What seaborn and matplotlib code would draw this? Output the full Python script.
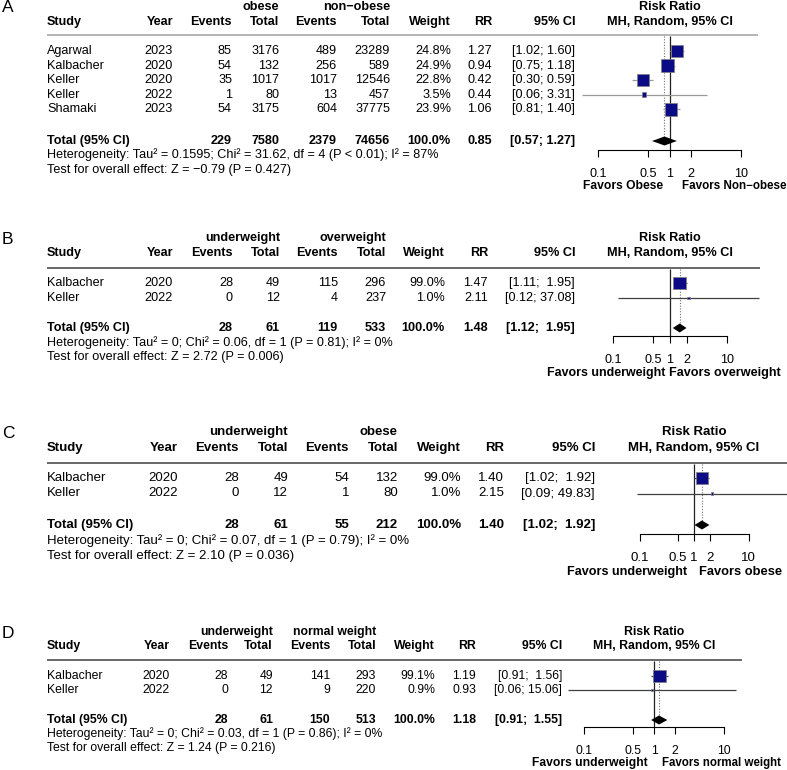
import matplotlib
matplotlib.use("Agg")
import numpy as np
import pandas as pd
import matplotlib.pyplot as plt
import seaborn as sns

sns.set_theme(style="white")
plt.rcParams["font.family"] = ["Liberation Sans", "DejaVu Sans"]

W, H = 787, 770
MINUS = "\u2212"

# --- A: obese vs non-obese
a_study = ["Agarwal", "Kalbacher", "Keller", "Keller", "Shamaki"]
a_year = [2023, 2020, 2020, 2022, 2023]
a_ev1 = [85, 54, 35, 1, 54]
a_tot1 = [3176, 132, 1017, 80, 3175]
a_ev2 = [489, 256, 1017, 13, 604]
a_tot2 = [23289, 589, 12546, 457, 37775]
a_weight = [24.8, 24.9, 22.8, 3.5, 23.9]
a_rr = [1.27, 0.94, 0.42, 0.44, 1.06]
a_lo = [1.02, 0.75, 0.30, 0.06, 0.81]
a_hi = [1.60, 1.18, 0.59, 3.31, 1.40]
a_total = [229, 7580, 2379, 74656]
a_pooled = [0.85, 0.57, 1.27]
a_groups = ["obese", "non" + MINUS + "obese"]
a_favors = ["Favors Obese", "Favors Non" + MINUS + "obese"]
a_het = "Heterogeneity: Tau² = 0.1595; Chi² = 31.62, df = 4 (P < 0.01); I² = 87%"
a_test = "Test for overall effect: Z = " + MINUS + "0.79 (P = 0.427)"

# --- B, C, D share the underweight arm
uw_study = ["Kalbacher", "Keller"]
uw_year = [2020, 2022]
uw_ev = [28, 0]
uw_tot = [49, 12]
uw_total = [28, 61]

b_ev2 = [115, 4]
b_tot2 = [296, 237]
b_weight = [99.0, 1.0]
b_rr = [1.47, 2.11]
b_lo = [1.11, 0.12]
b_hi = [1.95, 37.08]
b_total = [119, 533]
b_pooled = [1.48, 1.12, 1.95]
b_groups = ["underweight", "overweight"]
b_favors = ["Favors underweight", "Favors overweight"]
b_het = "Heterogeneity: Tau² = 0; Chi² = 0.06, df = 1 (P = 0.81); I² = 0%"
b_test = "Test for overall effect: Z = 2.72 (P = 0.006)"

c_ev2 = [54, 1]
c_tot2 = [132, 80]
c_weight = [99.0, 1.0]
c_rr = [1.40, 2.15]
c_lo = [1.02, 0.09]
c_hi = [1.92, 49.83]
c_total = [55, 212]
c_pooled = [1.40, 1.02, 1.92]
c_groups = ["underweight", "obese"]
c_favors = ["Favors underweight", "Favors obese"]
c_het = "Heterogeneity: Tau² = 0; Chi² = 0.07, df = 1 (P = 0.79); I² = 0%"
c_test = "Test for overall effect: Z = 2.10 (P = 0.036)"

d_ev2 = [141, 9]
d_tot2 = [293, 220]
d_weight = [99.1, 0.9]
d_rr = [1.19, 0.93]
d_lo = [0.91, 0.06]
d_hi = [1.56, 15.06]
d_total = [150, 513]
d_pooled = [1.18, 0.91, 1.55]
d_groups = ["underweight", "normal weight"]
d_favors = ["Favors underweight", "Favors normal weight"]
d_het = "Heterogeneity: Tau² = 0; Chi² = 0.03, df = 1 (P = 0.86); I² = 0%"
d_test = "Test for overall effect: Z = 1.24 (P = 0.216)"

panels = [
    dict(letter="A", study=a_study, year=a_year, ev1=a_ev1, tot1=a_tot1, ev2=a_ev2, tot2=a_tot2,
         weight=a_weight, rr=a_rr, lo=a_lo, hi=a_hi, total=a_total, pooled=a_pooled,
         groups=a_groups, favors=a_favors, het=a_het, test=a_test),
    dict(letter="B", study=uw_study, year=uw_year, ev1=uw_ev, tot1=uw_tot, ev2=b_ev2, tot2=b_tot2,
         weight=b_weight, rr=b_rr, lo=b_lo, hi=b_hi, total=uw_total + b_total, pooled=b_pooled,
         groups=b_groups, favors=b_favors, het=b_het, test=b_test),
    dict(letter="C", study=uw_study, year=uw_year, ev1=uw_ev, tot1=uw_tot, ev2=c_ev2, tot2=c_tot2,
         weight=c_weight, rr=c_rr, lo=c_lo, hi=c_hi, total=uw_total + c_total, pooled=c_pooled,
         groups=c_groups, favors=c_favors, het=c_het, test=c_test),
    dict(letter="D", study=uw_study, year=uw_year, ev1=uw_ev, tot1=uw_tot, ev2=d_ev2, tot2=d_tot2,
         weight=d_weight, rr=d_rr, lo=d_lo, hi=d_hi, total=uw_total + d_total, pooled=d_pooled,
         groups=d_groups, favors=d_favors, het=d_het, test=d_test),
]

# layout in pixels (top-left origin)
layouts = [
    dict(letter_y=8, grp_y=7, hdr_y=22, line_y=35, row0=51, dy=14.6, tot_y=141, het_y=155, test_y=170,
         axis_y=150, fav_y=186, cols=[173, 232, 279, 337, 390, 451, 492, 575], px1=669.5, dec=71.5,
         line_end=758, fav_l=663, fav_r=682, fav_fs=(8.7, 8.4), fs=9.05,
         line_col="#a0a0a0", ci_col="#9a9a9a"),
    dict(letter_y=240, grp_y=238, hdr_y=253, line_y=268, row0=283, dy=15, tot_y=328, het_y=343, test_y=357,
         axis_y=336, fav_y=373, cols=[173, 233, 280, 338, 386, 445, 488, 575], px1=670, dec=57,
         line_end=760, fav_l=665, fav_r=669, fav_fs=(8.95, 9.1), fs=9.1,
         line_col="#404040", ci_col="#404040"),
    dict(letter_y=434, grp_y=432, hdr_y=448, line_y=463, row0=478, dy=15.5, tot_y=525, het_y=541, test_y=556,
         axis_y=534, fav_y=572, cols=[178, 239, 288, 349, 398, 461, 504, 595], px1=694, dec=54.5,
         line_end=787, fav_l=687, fav_r=699, fav_fs=(9.1, 9.3), fs=9.55,
         line_col="#404040", ci_col="#404040"),
    dict(letter_y=633, grp_y=632, hdr_y=646, line_y=660, row0=676, dy=13.6, tot_y=720, het_y=734, test_y=748,
         axis_y=727, fav_y=763, cols=[170, 228, 273, 330, 376, 435, 476, 562], px1=654, dec=70,
         line_end=742, fav_l=648, fav_r=662, fav_fs=(8.7, 8.3), fs=8.85,
         line_col="#404040", ci_col="#404040"),
]

fig = plt.figure(figsize=(W / 100, H / 100), dpi=100)
bg = fig.add_axes([0, 0, 1, 1])
bg.set_xlim(0, W)
bg.set_ylim(H, 0)
bg.axis("off")

for p, L in zip(panels, layouts):
    fs = L["fs"]
    c = L["cols"]
    txt = lambda x, y, s, ha="right", bold=False, size=fs: bg.text(
        x, y, s, ha=ha, va="center", fontsize=size, fontweight="bold" if bold else "normal", color="black")

    txt(2, L["letter_y"], p["letter"], ha="left", size=12.5)

    # headers
    txt(c[2], L["grp_y"], p["groups"][0], bold=True)
    txt(c[4], L["grp_y"], p["groups"][1], bold=True)
    txt(L["px1"], L["grp_y"], "Risk Ratio", ha="center", bold=True)
    txt(47, L["hdr_y"], "Study", ha="left", bold=True)
    for x, s in zip(c, ["Year", "Events", "Total", "Events", "Total", "Weight", "RR", "95% CI"]):
        txt(x, L["hdr_y"], s, bold=True)
    txt(L["px1"], L["hdr_y"], "MH, Random, 95% CI", ha="center", bold=True)
    bg.plot([47, L["line_end"]], [L["line_y"]] * 2, color=L["line_col"], lw=1.1, solid_capstyle="butt")

    # study rows
    n = len(p["study"])
    ys = [L["row0"] + i * L["dy"] for i in range(n)]
    hi_w = max(len(f"{v:.2f}") for v in p["hi"] + [p["pooled"][2]])
    fmt_ci = lambda lo, hi: f"[{lo:.2f}; {hi:{hi_w}.2f}]"
    for i, y in enumerate(ys):
        txt(47, y, p["study"][i], ha="left")
        vals = [p["year"][i], p["ev1"][i], p["tot1"][i], p["ev2"][i], p["tot2"][i],
                f"{p['weight'][i]:.1f}%", f"{p['rr'][i]:.2f}", fmt_ci(p["lo"][i], p["hi"][i])]
        for x, v in zip(c, vals):
            txt(x, y, str(v))

    # total row
    ty = L["tot_y"]
    txt(47, ty, "Total (95% CI)", ha="left", bold=True)
    est, plo, phi = p["pooled"]
    tot_vals = [str(v) for v in p["total"]] + ["100.0%", f"{est:.2f}", fmt_ci(plo, phi)]
    for x, v in zip(c[1:], tot_vals):
        txt(x, ty, v, bold=True)
    txt(47, L["het_y"], p["het"], ha="left")
    txt(47, L["test_y"], p["test"], ha="left")

    # forest axes, y in page pixels
    left, right = 540, W
    top, bottom = L["line_y"] + 1, L["fav_y"] + 12
    ax = fig.add_axes([left / W, 1 - bottom / H, (right - left) / W, (bottom - top) / H])
    ax.patch.set_alpha(0)
    ax.set_xscale("log")
    ax.set_xlim(10 ** ((left - L["px1"]) / L["dec"]), 10 ** ((right - L["px1"]) / L["dec"]))
    ax.set_ylim(bottom, top)

    df = pd.DataFrame({"rr": p["rr"], "lo": p["lo"], "hi": p["hi"], "weight": p["weight"], "y": ys})
    ax.vlines(1, top, L["axis_y"], color="#202020", lw=0.9, zorder=1)
    ax.vlines(est, top, ty - 4.5, color="#707070", lw=0.8, linestyles=(0, (1, 1.5)), zorder=1)
    ax.hlines(df["y"], df["lo"], df["hi"], color=L["ci_col"], lw=0.9, zorder=2)
    sns.scatterplot(data=df, x="rr", y="y", size="weight", sizes=(1.5, 82), size_norm=(0, df["weight"].max()),
                    marker="s", color="#0b0b85", edgecolor="#808080", linewidth=0.5, legend=False,
                    ax=ax, zorder=3)
    ax.fill([plo, est, phi, est], [ty, ty - 4.5, ty, ty + 4.5], color="black", lw=0, zorder=3)

    for s in ["top", "left", "right"]:
        ax.spines[s].set_visible(False)
    ax.spines["bottom"].set_position(("data", L["axis_y"]))
    ax.spines["bottom"].set_bounds(0.1, 10)
    ax.spines["bottom"].set_color("black")
    ax.spines["bottom"].set_linewidth(0.8)
    ax.set_xticks([0.1, 0.5, 1, 2, 10])
    ax.set_xticklabels(["0.1", "0.5", "1", "2", "10"])
    ax.xaxis.set_minor_locator(matplotlib.ticker.NullLocator())
    ax.tick_params(axis="x", bottom=True, direction="out", length=5, width=0.8, pad=8,
                   labelsize=fs, colors="black")
    ax.set_yticks([])
    ax.set_xlabel("")
    ax.set_ylabel("")

    fl, fr = L["fav_fs"]
    txt(L["fav_l"], L["fav_y"], p["favors"][0], bold=True, size=fl)
    txt(L["fav_r"], L["fav_y"], p["favors"][1], ha="left", bold=True, size=fr)

fig.savefig("out.png", dpi=100)
